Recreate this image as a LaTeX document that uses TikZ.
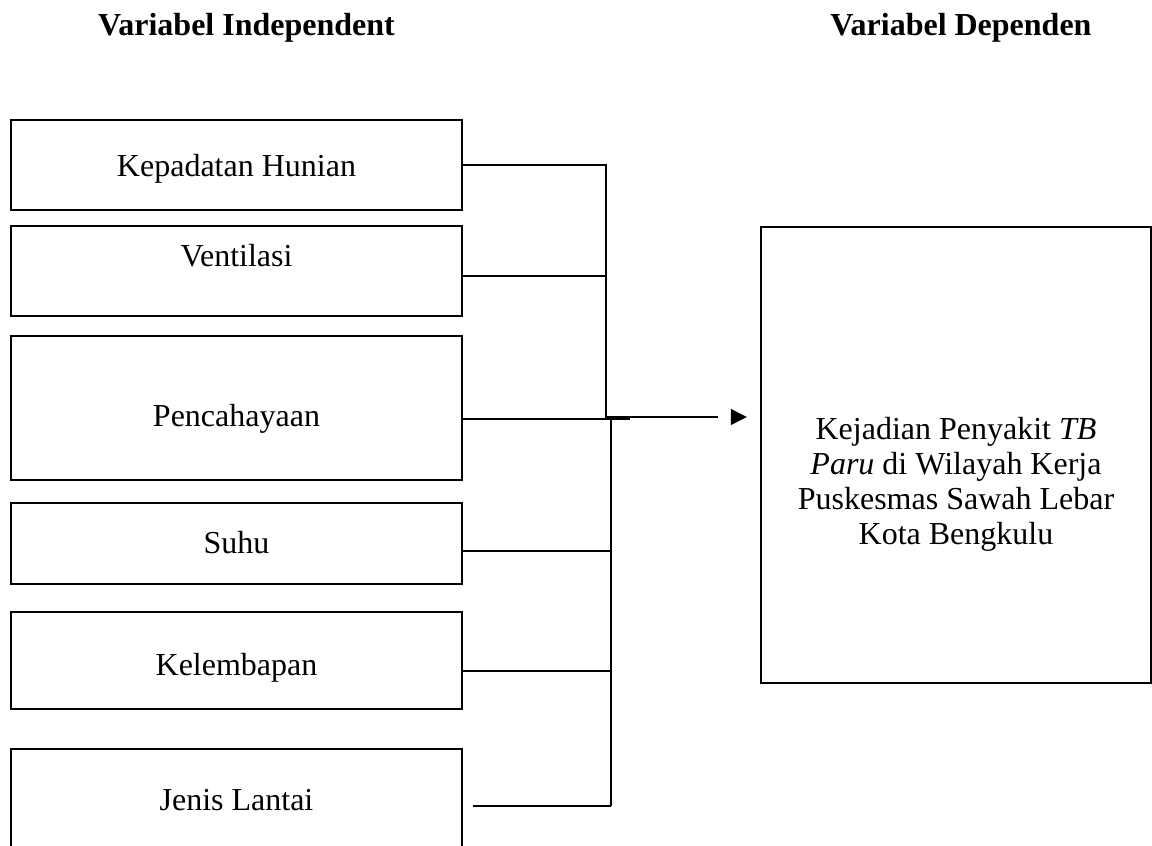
\documentclass[tikz,border=0pt]{standalone}
\usepackage{fontspec}
\setmainfont{Liberation Serif}
\usetikzlibrary{arrows.meta}
\tikzset{
  kotak/.style={draw, line width=1.2pt, minimum width=225.5pt, inner sep=0pt},
  teks/.style={anchor=base, font=\fontsize{16}{17.5}\selectfont},
  judul/.style={anchor=base, font=\fontsize{16}{17.5}\selectfont\bfseries},
  garis/.style={line width=0.6pt},
}
\begin{document}
\begin{tikzpicture}[x=0.5pt, y=-0.5pt]
\clip (0,0) rectangle (1152,846);
% judul kolom
\node[judul] (jIndep) at (246.5,35) {Variabel Independent};
\node[judul] (jDep) at (961,35) {Variabel Dependen};
% kotak variabel independen
\node[kotak, minimum height=45pt] (kepadatan) at (236.5,165) {};
\node[kotak, minimum height=45pt] (ventilasi) at (236.5,271) {};
\node[kotak, minimum height=72pt] (cahaya) at (236.5,408) {};
\node[kotak, minimum height=40.5pt] (suhu) at (236.5,543.5) {};
\node[kotak, minimum height=48.5pt] (lembap) at (236.5,660.5) {};
\node[kotak, minimum height=75.5pt] (lantai) at (236.5,824.5) {};
\node[teks] (tKepadatan) at (236.5,176) {Kepadatan Hunian};
\node[teks] (tVentilasi) at (236.5,266) {Ventilasi};
\node[teks] (tCahaya) at (236.5,426) {Pencahayaan};
\node[teks] (tSuhu) at (236.5,553) {Suhu};
\node[teks] (tLembap) at (236.5,675) {Kelembapan};
\node[teks] (tLantai) at (236.5,810) {Jenis Lantai};
% kotak variabel dependen
\node[kotak, minimum width=195pt, minimum height=228pt] (hasil) at (956,455) {};
\node[teks, anchor=center, align=center] (tHasil) at (956,484)
  {Kejadian Penyakit \textit{TB}\\\textit{Paru} di Wilayah Kerja\\Puskesmas Sawah Lebar\\Kota Bengkulu};
% garis penghubung
\coordinate (ja) at (606,417);
\coordinate (jb) at (611,419);
\coordinate (ujung) at (718,417);
\draw[garis] (kepadatan.east |- 0,165) -| (ja) -- (ujung);
\draw[garis] (ventilasi.east |- 0,276) -- (ja |- 0,276);
\draw[garis] (cahaya.east |- jb) -- (630,419);
\draw[garis] (jb) -- (jb |- 0,806);
\draw[garis] (suhu.east |- 0,551) -- (jb |- 0,551);
\draw[garis] (lembap.east |- 0,671) -- (jb |- 0,671);
\draw[garis] (473,806) -- (jb |- 0,806);
\draw[garis, -{Triangle[length=8pt, width=8pt]}, shorten >=6.5pt] (731,417) -- (hasil.west |- ujung);
\end{tikzpicture}
\end{document}
